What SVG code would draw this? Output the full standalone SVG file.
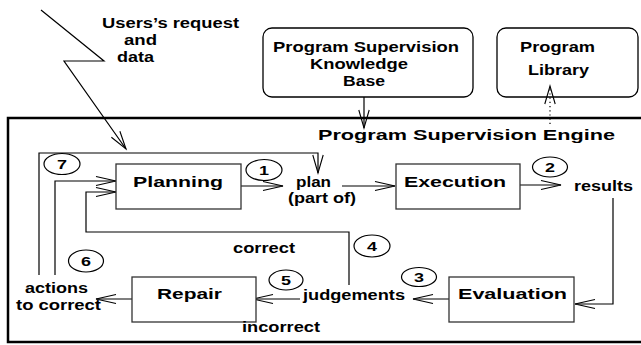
<svg xmlns="http://www.w3.org/2000/svg" width="641" height="345" viewBox="0 0 641 345">
<style>
text{font-family:"Liberation Sans",Arial,sans-serif;font-weight:bold;font-size:14px;fill:#000}
.num{font-size:13px;text-anchor:middle}
.box{fill:#fff;stroke:#333;stroke-width:1.3}
.rbox{fill:#fff;stroke:#000;stroke-width:1.3}
.frame{fill:none;stroke:#000;stroke-width:2.5}
.circ{fill:#fff;stroke:#000;stroke-width:1.2}
.con{fill:none;stroke:#000;stroke-width:1.2}
.dot{fill:none;stroke:#000;stroke-width:1.2;stroke-dasharray:1.2 3}
</style>
<defs>
<marker id="ah" viewBox="0 0 22 12" refX="20" refY="6" markerWidth="22" markerHeight="12" markerUnits="userSpaceOnUse" orient="auto" overflow="visible">
<path d="M0,1.5 L20,6 L0,10.5" fill="none" stroke="#000" stroke-width="1.1"/>
</marker>
<marker id="av" viewBox="0 0 19 12" refX="18" refY="6" markerWidth="19" markerHeight="12" markerUnits="userSpaceOnUse" orient="auto" overflow="visible">
<path d="M0,0.8 L18,6 L0,11.2" fill="none" stroke="#000" stroke-width="1.1"/>
</marker>
</defs>

<g id="engine">
<rect class="frame" x="8" y="118" width="640" height="224"/>
<text x="318" y="140" font-size="15" textLength="297" lengthAdjust="spacingAndGlyphs">Program Supervision Engine</text>
</g>

<g id="knowledge-base">
<rect class="rbox" x="263" y="28" width="210" height="69" rx="9"/>
<text x="273" y="52" textLength="186" lengthAdjust="spacingAndGlyphs">Program Supervision</text>
<text x="310" y="69" textLength="98" lengthAdjust="spacingAndGlyphs">Knowledge</text>
<text x="343" y="86" textLength="42" lengthAdjust="spacingAndGlyphs">Base</text>
</g>

<g id="program-library">
<rect class="rbox" x="497" y="28" width="141" height="69" rx="9"/>
<text x="520" y="52" textLength="75" lengthAdjust="spacingAndGlyphs">Program</text>
<text x="528" y="75" textLength="61" lengthAdjust="spacingAndGlyphs">Library</text>
</g>

<g id="users-request">
<text x="102" y="28" textLength="137" lengthAdjust="spacingAndGlyphs">Users’s request</text>
<text x="124" y="45" textLength="33" lengthAdjust="spacingAndGlyphs">and</text>
<text x="117" y="62" textLength="37" lengthAdjust="spacingAndGlyphs">data</text>
</g>

<g id="connectors">
<polyline class="con" points="41,10 104,61 64,61 126,149" marker-end="url(#av)"/>
<line class="con" x1="364" y1="97" x2="364" y2="128" marker-end="url(#av)"/>
<line class="dot" x1="550" y1="124" x2="550" y2="86" marker-end="url(#av)"/>
<line class="con" x1="241" y1="186" x2="283" y2="186" marker-end="url(#ah)"/>
<line class="con" x1="342" y1="186" x2="395" y2="186" marker-end="url(#ah)"/>
<line class="con" x1="520" y1="185" x2="561" y2="185" marker-end="url(#ah)"/>
<polyline class="con" points="613,198 613,304 575,304" marker-end="url(#ah)"/>
<line class="con" x1="449" y1="299" x2="413" y2="299" marker-end="url(#ah)"/>
<line class="con" x1="300" y1="299" x2="253" y2="299" marker-end="url(#ah)"/>
<line class="con" x1="132" y1="299" x2="96" y2="299" marker-end="url(#ah)"/>
<polyline class="con" points="349,285 349,232 86,232 86,192 116,192" marker-end="url(#ah)"/>
<polyline class="con" points="39,275 39,153 318,153 318,173" marker-end="url(#av)"/>
<polyline class="con" points="55,275 55,181 116,181" marker-end="url(#ah)"/>
</g>

<g id="planning">
<rect class="box" x="116" y="164" width="125" height="45"/>
<text x="133" y="187" textLength="90" lengthAdjust="spacingAndGlyphs">Planning</text>
</g>

<g id="plan">
<text x="296" y="187" textLength="35" lengthAdjust="spacingAndGlyphs">plan</text>
<text x="288" y="203" textLength="68" lengthAdjust="spacingAndGlyphs">(part of)</text>
</g>

<g id="execution">
<rect class="box" x="396" y="164" width="124" height="45"/>
<text x="404" y="187" textLength="102" lengthAdjust="spacingAndGlyphs">Execution</text>
</g>

<g id="results">
<text x="574" y="191" textLength="59" lengthAdjust="spacingAndGlyphs">results</text>
</g>

<g id="evaluation">
<rect class="box" x="449" y="277" width="125" height="45"/>
<text x="458" y="299" textLength="109" lengthAdjust="spacingAndGlyphs">Evaluation</text>
</g>

<g id="judgements">
<text x="303" y="300" textLength="102" lengthAdjust="spacingAndGlyphs">judgements</text>
</g>

<g id="repair">
<rect class="box" x="132" y="277" width="124" height="45"/>
<text x="157" y="299" textLength="65" lengthAdjust="spacingAndGlyphs">Repair</text>
</g>

<g id="actions">
<text x="25" y="293" textLength="63" lengthAdjust="spacingAndGlyphs">actions</text>
<text x="16" y="310" textLength="85" lengthAdjust="spacingAndGlyphs">to correct</text>
</g>

<g id="labels">
<text x="233" y="253" textLength="62" lengthAdjust="spacingAndGlyphs">correct</text>
<text x="242" y="332" textLength="78" lengthAdjust="spacingAndGlyphs">incorrect</text>
</g>

<g id="step-1"><ellipse class="circ" cx="264" cy="170" rx="18" ry="10.5"/><text class="num" x="264" y="175" textLength="10" lengthAdjust="spacingAndGlyphs">1</text></g>
<g id="step-2"><ellipse class="circ" cx="550" cy="167" rx="17.5" ry="10"/><text class="num" x="550" y="172" textLength="10" lengthAdjust="spacingAndGlyphs">2</text></g>
<g id="step-3"><ellipse class="circ" cx="419" cy="277" rx="17.5" ry="9.5"/><text class="num" x="419" y="282" textLength="10" lengthAdjust="spacingAndGlyphs">3</text></g>
<g id="step-4"><ellipse class="circ" cx="372" cy="246" rx="18" ry="11"/><text class="num" x="372" y="251" textLength="10" lengthAdjust="spacingAndGlyphs">4</text></g>
<g id="step-5"><ellipse class="circ" cx="286" cy="280" rx="17" ry="10"/><text class="num" x="286" y="285" textLength="10" lengthAdjust="spacingAndGlyphs">5</text></g>
<g id="step-6"><ellipse class="circ" cx="86" cy="261" rx="17.5" ry="11"/><text class="num" x="86" y="266" textLength="10" lengthAdjust="spacingAndGlyphs">6</text></g>
<g id="step-7"><ellipse class="circ" cx="62" cy="164" rx="18" ry="10.5"/><text class="num" x="62" y="169" textLength="10" lengthAdjust="spacingAndGlyphs">7</text></g>
</svg>
